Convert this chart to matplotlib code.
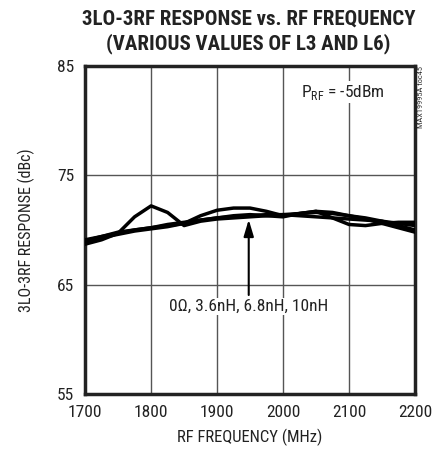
import matplotlib
matplotlib.use("Agg")
import matplotlib.pyplot as plt

freq = [1700,1725,1750,1775,1800,1825,1850,1875,1900,1925,1950,1975,2000,2025,2050,2075,2100,2125,2150,2175,2200]
s_0ohm = [68.7,69.1,69.7,71.2,72.2,71.6,70.4,70.8,71.0,71.1,71.2,71.3,71.4,71.5,71.6,71.5,71.3,71.1,70.8,70.4,70.0]
s_3p6 = [68.9,69.3,69.6,69.9,70.1,70.3,70.6,71.3,71.8,72.0,72.0,71.7,71.3,71.5,71.7,71.6,71.3,71.0,70.6,70.2,69.8]
s_6p8 = [69.1,69.4,69.7,70.0,70.2,70.4,70.6,70.9,71.1,71.3,71.4,71.3,71.2,71.5,71.7,71.1,70.5,70.4,70.6,70.7,70.7]
s_10 = [69.0,69.4,69.8,70.0,70.2,70.5,70.7,70.9,71.1,71.2,71.3,71.4,71.4,71.3,71.2,71.1,71.0,70.9,70.8,70.6,70.4]
xticks = [1700,1800,1900,2000,2100,2200]
yticks = [55,65,75,85]

font = 'Roboto Condensed'
plt.rcParams['font.family'] = [font, 'DejaVu Sans']
plt.rcParams['mathtext.fontset'] = 'custom'
plt.rcParams['mathtext.rm'] = font
fig = plt.figure(figsize=(4.41,4.54), dpi=100)
ax = fig.add_axes([0.193, 0.132, 0.748, 0.723])
for s in (s_0ohm, s_3p6, s_6p8, s_10):
    ax.plot(freq, s, color='black', lw=2.5, solid_joinstyle='round', zorder=3)
ax.set_xlim(1700,2200); ax.set_ylim(55,85)
ax.set_xticks(xticks); ax.set_yticks(yticks)
ax.grid(True, color='#555555', lw=1.0)
ax.tick_params(length=0, pad=8, labelsize=12.5, labelcolor='#222222')
for sp in ax.spines.values():
    sp.set_linewidth(2.5); sp.set_color('#222222')
ax.set_xlabel('RF FREQUENCY (MHz)', fontsize=12, labelpad=6, color='#222222')
ax.set_ylabel('3LO-3RF RESPONSE (dBc)', fontsize=11.5, labelpad=16, color='#222222')
fig.text(0.563, 0.958, '3LO-3RF RESPONSE vs. RF FREQUENCY', ha='center', va='center',
         fontweight='bold', fontsize=15, color='#222222')
fig.text(0.563, 0.904, '(VARIOUS VALUES OF L3 AND L6)', ha='center', va='center',
         fontweight='bold', fontsize=15, color='#222222')
ax.annotate('', xy=(1948, 71.2), xytext=(1948, 63.8),
            arrowprops=dict(arrowstyle='-|>,head_width=0.3,head_length=1.0', color='black', lw=1.5), zorder=4)
ax.text(1948, 63.0, '0Ω, 3.6nH, 6.8nH, 10nH', ha='center', va='center',
        fontsize=12.5, color='#222222', bbox=dict(facecolor='white', edgecolor='none', pad=1), zorder=5)
ax.text(2090, 82.6, 'P$_{\\mathrm{RF}}$ = -5dBm', ha='center', va='center',
        fontsize=12.5, color='#222222', bbox=dict(facecolor='white', edgecolor='none', pad=1), zorder=5)
fig.text(0.948, 0.855, 'MAX19995A toc45', rotation=90, ha='left', va='top',
         fontsize=6, color='#333333')
fig.savefig('out.png', dpi=100)
